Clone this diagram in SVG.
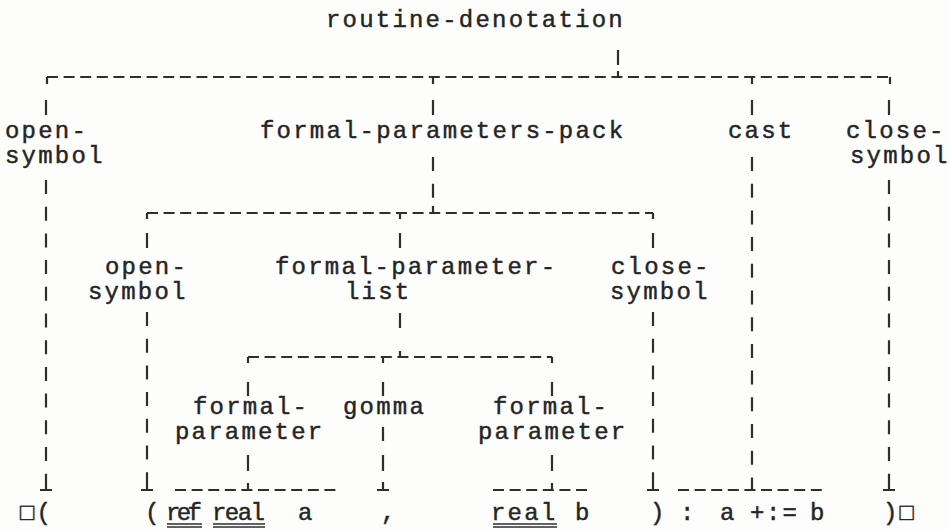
<svg xmlns="http://www.w3.org/2000/svg" width="950" height="530" viewBox="0 0 950 530">
<style>
text { font-family: "Liberation Mono", "DejaVu Sans Mono", monospace; font-size: 24px; letter-spacing: 2.2px; fill: #252525; stroke: #252525; stroke-width: 0.45; }
.h { stroke: #2e2e2e; stroke-width: 2; stroke-dasharray: 11 5.6; fill: none; }
.v { stroke: #2e2e2e; stroke-width: 2.2; stroke-dasharray: 14 12.7; fill: none; }
.s { stroke: #2e2e2e; stroke-width: 2.2; fill: none; }
.u { stroke: #2e2e2e; stroke-width: 1.4; fill: none; }
.n { letter-spacing: 0; }
</style>
<rect width="950" height="530" fill="#fdfdfc"/>
<g id="connectors">
  <line class="s" x1="618" y1="50" x2="618" y2="65"/>
  <line class="s" x1="618" y1="71" x2="618" y2="77"/>
  <line class="h" x1="47" y1="77" x2="890" y2="77"/>
  <path class="s" d="M47 77V84M433 77V84M752 77V84M890 77V84"/>
  <path class="s" d="M46 100V115M433 100V115M752 100V115M889 100V115"/>
  <line class="v" x1="46" y1="180" x2="46" y2="482"/>
  <path class="s" d="M46 482V490M40 490H52"/>
  <line class="v" x1="433" y1="157" x2="433" y2="198"/>
  <line class="s" x1="433" y1="206" x2="433" y2="213"/>
  <line class="v" x1="752" y1="157" x2="752" y2="482"/>
  <line class="s" x1="752" y1="482" x2="752" y2="490"/>
  <line class="h" x1="678" y1="490" x2="825" y2="490"/>
  <line class="v" x1="889" y1="180" x2="889" y2="482"/>
  <path class="s" d="M889 482V490M883 490H895"/>
  <line class="h" x1="147" y1="213" x2="653" y2="213"/>
  <path class="s" d="M147 213V219M400 213V219M653 213V219"/>
  <path class="s" d="M147 233V248M400 233V248M653 233V248"/>
  <line class="v" x1="147" y1="312" x2="147" y2="482"/>
  <path class="s" d="M147 482V490M141 490H153"/>
  <path class="s" d="M400 313V328M400 351V357"/>
  <line class="v" x1="653" y1="312" x2="653" y2="482"/>
  <path class="s" d="M653 482V490M647 490H659"/>
  <line class="h" x1="248" y1="357" x2="552" y2="357"/>
  <path class="s" d="M248 357V363M383 357V363M552 357V363"/>
  <path class="s" d="M248 382V396M383 382V396M552 382V396"/>
  <path class="s" d="M248 455V471M248 483V490"/>
  <line class="h" x1="175" y1="490" x2="340" y2="490"/>
  <path class="s" d="M383 427V441M383 455V471M383 482V490M377 490H389"/>
  <path class="s" d="M552 455V471M552 483V490"/>
  <line class="h" x1="493" y1="490" x2="590" y2="490"/>
</g>
<g id="routine-denotation"><text x="326" y="27">routine-denotation</text></g>
<g id="open-symbol-1"><text x="5" y="138">open-</text><text x="5" y="163">symbol</text></g>
<g id="formal-parameters-pack"><text x="260" y="138">formal-parameters-pack</text></g>
<g id="cast"><text x="728" y="138">cast</text></g>
<g id="close-symbol-1"><text x="846" y="138">close-</text><text x="850" y="163">symbol</text></g>
<g id="open-symbol-2"><text x="105" y="274">open-</text><text x="88" y="299">symbol</text></g>
<g id="formal-parameter-list"><text x="275" y="274">formal-parameter-</text><text x="345" y="299">list</text></g>
<g id="close-symbol-2"><text x="611" y="274">close-</text><text x="610" y="299">symbol</text></g>
<g id="formal-parameter-1"><text x="193" y="414">formal-</text><text x="175" y="439">parameter</text></g>
<g id="gomma"><text x="343" y="414">gomma</text></g>
<g id="formal-parameter-2"><text x="493" y="414">formal-</text><text x="478" y="439">parameter</text></g>
<g id="terminals">
  <text x="20" y="520">□(</text>
  <text x="145" y="520">(</text>
  <text class="n" x="166" y="520" textLength="36" lengthAdjust="spacing">ref</text>
  <text class="n" x="212" y="520" textLength="53" lengthAdjust="spacing">real</text>
  <text x="298" y="520">a</text>
  <text x="381" y="520">,</text>
  <text x="491" y="520">real</text>
  <text x="575" y="520">b</text>
  <text x="650" y="520">)</text>
  <text x="680" y="520">:</text>
  <text x="720" y="520">a</text>
  <text x="750" y="520">+</text>
  <text x="766" y="520">:=</text>
  <text x="810" y="520">b</text>
  <text x="883" y="520">)□</text>
  <path class="u" d="M167 524H202M167 527H202M213 524H265M213 527H265M493 524H557M493 527H557"/>
</g>
</svg>
